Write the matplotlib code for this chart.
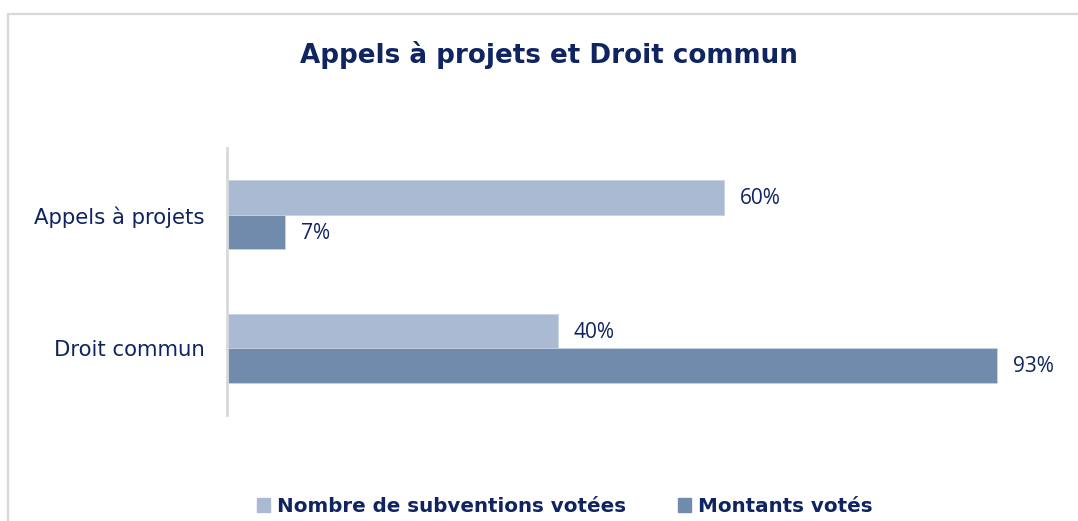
import matplotlib.pyplot as plt
from matplotlib.patches import Rectangle, Patch

# data
categories = ["Appels à projets", "Droit commun"]
series_names = ["Nombre de subventions votées", "Montants votés"]
nombre = [60, 40]
montants = [7, 93]

light = "#ABBAD3"
dark = "#718BAC"
navy = "#0F2461"

fig = plt.figure(figsize=(10.78, 5.21), dpi=100)
ax = fig.add_axes([227 / 1078, 1 - 415 / 521, 828 / 1078, (415 - 148) / 521])

# outer frame (open on right and bottom)
fig.patches.append(Rectangle((7.5 / 1078, -0.2), 2, 1.2 - 14 / 521, transform=fig.transFigure,
                             fill=False, edgecolor="#D9D9D9", linewidth=1.6))

h = 0.257
pos = list(range(len(categories)))
b1 = ax.barh([p - h / 2 for p in pos], nombre, height=h, color=light, edgecolor="#C8D2E2", linewidth=0.6)
b2 = ax.barh([p + h / 2 for p in pos], montants, height=h, color=dark, edgecolor="#C8D2E2", linewidth=0.6)

for bars, vals in ((b1, nombre), (b2, montants)):
    for rect, v in zip(bars, vals):
        ax.text(rect.get_width() + 1.9, rect.get_y() + rect.get_height() / 2 + 0.01, f"{v}%",
                va="center", ha="left", fontsize=15, color=navy, family="Open Sans")

ax.set_xlim(0, 100)
ax.set_ylim(1.5, -0.5)
ax.set_yticks(pos)
ax.set_yticklabels(categories, fontsize=15.3, color=navy, family="DejaVu Sans")
ax.tick_params(axis="y", length=0, pad=16)
ax.set_xticks([])
for s in ["top", "right", "bottom"]:
    ax.spines[s].set_visible(False)
ax.spines["left"].set_color("#D9D9D9")
ax.spines["left"].set_linewidth(2)

fig.text(549 / 1078, 1 - 55 / 521, "Appels à projets et Droit commun", ha="center", va="center",
         fontsize=18.8, fontweight="bold", color=navy, family="DejaVu Sans")

handles = [Patch(color=light), Patch(color=dark)]
leg = fig.legend(handles, series_names, loc="center", ncol=2, bbox_to_anchor=(0.524, 1 - 506 / 521),
                 frameon=False, handlelength=0.65, handleheight=0.7, handletextpad=0.35,
                 columnspacing=2.6, prop={"family": "DejaVu Sans", "weight": "bold", "size": 14.3})
for t in leg.get_texts():
    t.set_color(navy)

plt.savefig("out.png", dpi=100)
